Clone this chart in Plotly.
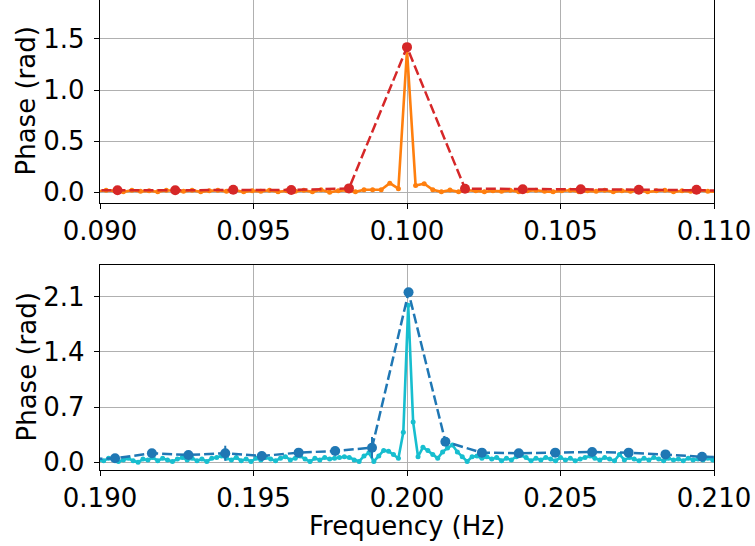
import plotly.graph_objects as go
from plotly.subplots import make_subplots

# ---------------- data: top panel (around 0.1 Hz) ----------------
red_x = [0.08868, 0.09057, 0.09245, 0.09434, 0.09623, 0.09811, 0.10000,
         0.10189, 0.10377, 0.10566, 0.10755, 0.10943, 0.11132]
red_y = [0.020, 0.020, 0.020, 0.026, 0.023, 0.039, 1.420,
         0.036, 0.030, 0.030, 0.026, 0.026, 0.015]

orange_x = [0.08992, 0.09020, 0.09048, 0.09076, 0.09104, 0.09132, 0.09160, 0.09188,
            0.09216, 0.09244, 0.09272, 0.09300, 0.09328, 0.09356, 0.09384, 0.09412,
            0.09440, 0.09468, 0.09496, 0.09524, 0.09552, 0.09580, 0.09608, 0.09636,
            0.09664, 0.09692, 0.09720, 0.09748, 0.09776, 0.09804, 0.09832, 0.09860,
            0.09888, 0.09916, 0.09944, 0.09972, 0.10000, 0.10028, 0.10056, 0.10084,
            0.10112, 0.10140, 0.10168, 0.10196, 0.10224, 0.10252, 0.10280, 0.10308,
            0.10336, 0.10364, 0.10392, 0.10420, 0.10448, 0.10476, 0.10504, 0.10532,
            0.10560, 0.10588, 0.10616, 0.10644, 0.10672, 0.10700, 0.10728, 0.10756,
            0.10784, 0.10812, 0.10840, 0.10868, 0.10896, 0.10924, 0.10952, 0.10980,
            0.11008]
orange_y = [0.010, 0.020, 0.015, 0.005, 0.020, 0.010, 0.015, 0.005,
            0.020, 0.015, 0.010, 0.020, 0.005, 0.015, 0.020, 0.010,
            0.020, 0.005, 0.015, 0.010, 0.020, 0.005, 0.015, 0.010,
            0.020, 0.005, 0.025, 0.000, 0.015, 0.020, 0.005, 0.025,
            0.025, 0.025, 0.090, 0.036, 1.390, 0.068, 0.085, 0.026,
            0.005, 0.022, 0.005, 0.020, 0.015, 0.005, 0.015, 0.010,
            0.020, 0.005, 0.015, 0.020, 0.010, 0.005, 0.015, 0.020,
            0.005, 0.015, 0.010, 0.020, 0.005, 0.015, 0.010, 0.020,
            0.005, 0.015, 0.020, 0.005, 0.015, 0.010, 0.020, 0.010,
            0.005]

# ---------------- data: bottom panel (around 0.2 Hz) ----------------
blue_x = [0.18930, 0.19049, 0.19169, 0.19288, 0.19408, 0.19527, 0.19647,
          0.19766, 0.19886, 0.20005, 0.20125, 0.20244, 0.20364, 0.20483,
          0.20603, 0.20722, 0.20842, 0.20961, 0.21081]
blue_y = [0.035, 0.050, 0.114, 0.093, 0.114, 0.080, 0.122,
          0.143, 0.185, 2.155, 0.261, 0.122, 0.114, 0.122,
          0.130, 0.122, 0.100, 0.070, 0.065]
blue_err = [0.02, 0.02, 0.02, 0.02, 0.096, 0.02, 0.03,
            0.02, 0.135, 0.03, 0.02, 0.02, 0.02, 0.02,
            0.05, 0.02, 0.02, 0.02, 0.02]

cyan_x = [0.18996, 0.19012, 0.19028, 0.19044, 0.19060, 0.19076, 0.19092, 0.19108,
          0.19124, 0.19140, 0.19156, 0.19172, 0.19188, 0.19204, 0.19220, 0.19236,
          0.19252, 0.19268, 0.19284, 0.19300, 0.19316, 0.19332, 0.19348, 0.19364,
          0.19380, 0.19396, 0.19412, 0.19428, 0.19444, 0.19460, 0.19476, 0.19492,
          0.19508, 0.19524, 0.19540, 0.19556, 0.19572, 0.19588, 0.19604, 0.19620,
          0.19636, 0.19652, 0.19668, 0.19684, 0.19700, 0.19716, 0.19732, 0.19748,
          0.19764, 0.19780, 0.19796, 0.19812, 0.19828, 0.19844, 0.19860, 0.19876,
          0.19892, 0.19908, 0.19924, 0.19940, 0.19956, 0.19972, 0.19988, 0.20004,
          0.20020, 0.20036, 0.20052, 0.20068, 0.20084, 0.20100, 0.20116, 0.20132,
          0.20148, 0.20164, 0.20180, 0.20196, 0.20212, 0.20228, 0.20244, 0.20260,
          0.20276, 0.20292, 0.20308, 0.20324, 0.20340, 0.20356, 0.20372, 0.20388,
          0.20404, 0.20420, 0.20436, 0.20452, 0.20468, 0.20484, 0.20500, 0.20516,
          0.20532, 0.20548, 0.20564, 0.20580, 0.20596, 0.20612, 0.20628, 0.20644,
          0.20660, 0.20676, 0.20692, 0.20708, 0.20724, 0.20740, 0.20756, 0.20772,
          0.20788, 0.20804, 0.20820, 0.20836, 0.20852, 0.20868, 0.20884, 0.20900,
          0.20916, 0.20932, 0.20948, 0.20964, 0.20980, 0.20996, 0.21012]
cyan_y = [0.03, 0.02, 0.05, 0.04, 0.01, 0.03, 0.05, 0.02,
          0.00, 0.04, 0.03, 0.06, 0.02, 0.05, 0.03, 0.01,
          0.04, 0.06, 0.03, 0.05, 0.02, 0.04, 0.01, 0.05,
          0.06, 0.08, 0.05, 0.03, 0.06, 0.02, 0.04, 0.01,
          0.05, 0.03, 0.06, 0.04, 0.02, 0.05, 0.07, 0.03,
          0.05, 0.08, 0.04, 0.01, 0.05, 0.03, 0.06, 0.04,
          0.05, 0.06, 0.07, 0.06, 0.03, 0.01, 0.08, 0.12,
          0.01, 0.08, 0.15, 0.14, 0.10, 0.05, 0.38, 1.99,
          0.51, 0.07, 0.19, 0.15, 0.10, 0.05, 0.13, 0.18,
          0.22, 0.13, 0.07, 0.01, 0.07, 0.08, 0.05, 0.07,
          0.04, 0.06, 0.02, 0.05, 0.03, 0.07, 0.09, 0.06,
          0.02, 0.05, 0.03, 0.06, 0.04, 0.02, 0.06, 0.03,
          0.05, 0.02, 0.04, 0.06, 0.08, 0.05, 0.03, 0.06,
          0.04, 0.02, 0.10, 0.03, 0.06, 0.04, 0.02, 0.05,
          0.03, 0.06, 0.04, 0.02, 0.05, 0.03, 0.04, 0.02,
          0.05, 0.03, 0.04, 0.03, 0.05, 0.03, 0.04]

# ---------------- ticks / labels ----------------
top_xticks = [0.090, 0.095, 0.100, 0.105, 0.110]
top_yticks = [0.0, 0.5, 1.0, 1.5]
bot_xticks = [0.190, 0.195, 0.200, 0.205, 0.210]
bot_yticks = [0.0, 0.7, 1.4, 2.1]
y_label = "Phase (rad)"
x_label = "Frequency (Hz)"

RED = "#d62728"
ORANGE = "#ff7f0e"
BLUE = "#1f77b4"
CYAN = "#17becf"

W, H = 755, 546
ML, MR, MT, MB = 100, 41, 0, 76
PH = H - MT - MB  # 470
top_dom = [(PH - 203) / PH, 1.0]
bot_dom = [0.0, (PH - 265) / PH]

fig = make_subplots(rows=2, cols=1)

fig.add_trace(go.Scatter(x=orange_x, y=orange_y, mode="lines+markers",
                         line=dict(color=ORANGE, width=2.6),
                         marker=dict(color=ORANGE, size=5),
                         showlegend=False), row=1, col=1)
fig.add_trace(go.Scatter(x=red_x, y=red_y, mode="lines+markers",
                         line=dict(color=RED, width=2.5, dash="10px,4px"),
                         marker=dict(color=RED, size=10),
                         showlegend=False), row=1, col=1)

fig.add_trace(go.Scatter(x=cyan_x, y=cyan_y, mode="lines+markers",
                         line=dict(color=CYAN, width=2.6),
                         marker=dict(color=CYAN, size=5),
                         showlegend=False), row=2, col=1)
fig.add_trace(go.Scatter(x=blue_x, y=blue_y, mode="lines+markers",
                         line=dict(color=BLUE, width=2.5, dash="10px,4px"),
                         marker=dict(color=BLUE, size=10),
                         error_y=dict(type="data", array=blue_err, visible=True,
                                      color=BLUE, thickness=2, width=0),
                         showlegend=False), row=2, col=1)

font = dict(family="DejaVu Sans", size=26, color="black")
common_axis = dict(showgrid=True, gridcolor="#b0b0b0", gridwidth=1.2,
                   zeroline=False, showline=True, linecolor="black", linewidth=1.3,
                   ticks="outside", ticklen=5, tickwidth=1.3, tickcolor="black",
                   tickfont=font, automargin=False)

fig.update_xaxes(common_axis)
fig.update_yaxes(common_axis)
fig.update_yaxes(ticklabelstandoff=4)

fig.update_layout(
    xaxis=dict(domain=[0, 1], range=[0.090, 0.110], tickvals=top_xticks,
               tickformat=".3f", mirror=False, anchor="y"),
    yaxis=dict(domain=top_dom, range=[-0.104, 1.881], tickvals=top_yticks,
               tickformat=".1f", mirror=True, anchor="x"),
    xaxis2=dict(domain=[0, 1], range=[0.190, 0.210], tickvals=bot_xticks,
                tickformat=".3f", mirror=True, anchor="y2"),
    yaxis2=dict(domain=bot_dom, range=[-0.098, 2.502], tickvals=bot_yticks,
                tickformat=".1f", mirror=True, anchor="x2"),
    width=W, height=H,
    margin=dict(l=ML, r=MR, t=MT, b=MB, pad=0, autoexpand=False),
    paper_bgcolor="white", plot_bgcolor="white",
    font=font,
    showlegend=False,
)

ann = []
ann.append(dict(text=y_label, xref="paper", yref="paper", x=0, y=sum(top_dom) / 2,
                xshift=-74, textangle=-90, showarrow=False, font=font,
                xanchor="center", yanchor="middle"))
ann.append(dict(text=y_label, xref="paper", yref="paper", x=0, y=sum(bot_dom) / 2,
                xshift=-74, textangle=-90, showarrow=False, font=font,
                xanchor="center", yanchor="middle"))
ann.append(dict(text=x_label, xref="paper", yref="paper", x=0.5, y=0,
                yshift=-56, showarrow=False, font=font,
                xanchor="center", yanchor="middle"))
fig.update_layout(annotations=ann)

fig.write_html("out.html", config={"displayModeBar": False},
               post_script="document.body.style.margin='0';document.body.style.padding='0';")
